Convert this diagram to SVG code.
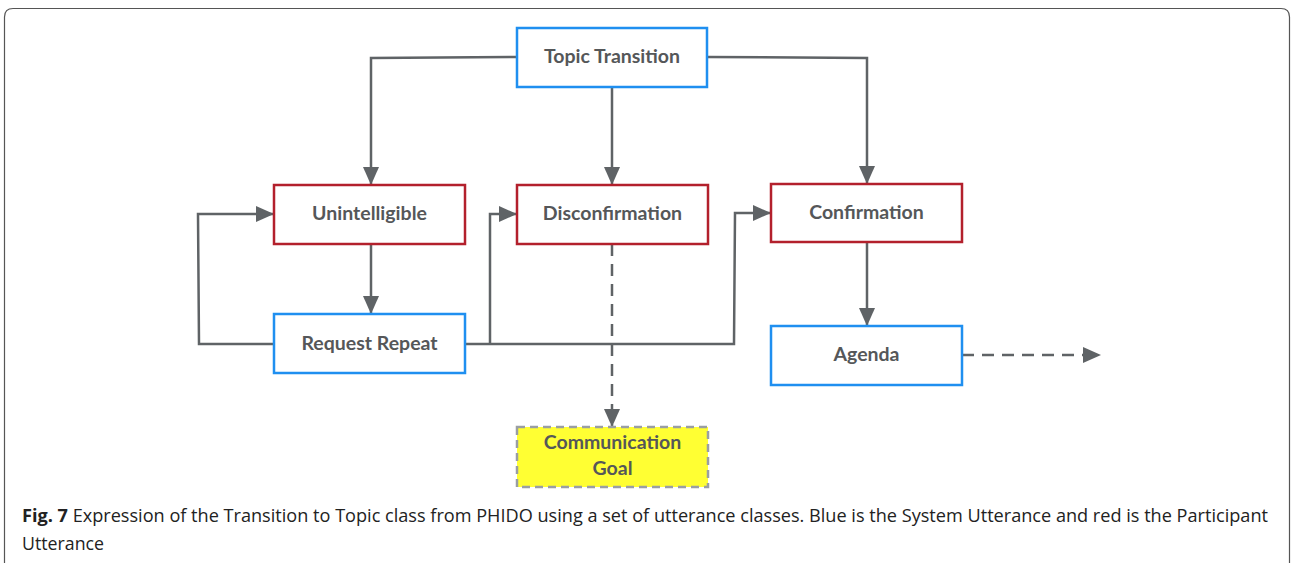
<svg xmlns="http://www.w3.org/2000/svg" width="1291" height="563" viewBox="0 0 1291 563">
<style>
.node rect{fill:#fff;stroke-width:2.5}
.sys rect{stroke:#1f8ff0}
.par rect{stroke:#b3202c}
.goal rect{fill:#ffff33;stroke:#9a9ea3;stroke-dasharray:8 5}
.lbl{font-family:Lato,"Open Sans",sans-serif;font-weight:bold;font-size:19.5px;fill:#555759;text-anchor:middle}
.c{fill:none;stroke:#5f6366;stroke-width:2.5}
.d{stroke-dasharray:12 8}
.cap{font-family:"Open Sans","Liberation Sans",sans-serif;font-size:18px;fill:#222}
</style>
<defs>
<marker id="ah" markerUnits="userSpaceOnUse" markerWidth="18" markerHeight="16" refX="17" refY="8" orient="auto">
<path d="M0,0 L18,8 L0,16 Z" fill="#5f6366"/>
</marker>
</defs>
<path d="M4.5,563 L4.5,17 Q4.5,8.5 13,8.5 L1281,8.5 Q1289.5,8.5 1289.5,17 L1289.5,563" fill="none" stroke="#555" stroke-width="1.2"/>
<g id="connectors">
<path class="c" d="M517,57 L371,58 L371,184" marker-end="url(#ah)"/>
<path class="c" d="M612,87 L612,184" marker-end="url(#ah)"/>
<path class="c" d="M707,57 L867,58 L867,183" marker-end="url(#ah)"/>
<path class="c" d="M371,244 L371,313" marker-end="url(#ah)"/>
<path class="c" d="M274,344 L199,344 L198,214 L273,214" marker-end="url(#ah)"/>
<path class="c" d="M465,344 L734,344 L735,213 L770,213" marker-end="url(#ah)"/>
<path class="c" d="M490,344 L490,214 L516,214" marker-end="url(#ah)"/>
<path class="c d" d="M612,244 L612,426" marker-end="url(#ah)"/>
<path class="c" d="M867,242 L867,325" marker-end="url(#ah)"/>
<path class="c d" d="M962,355 L1100,355" marker-end="url(#ah)"/>
</g>
<g id="topic-transition" class="node sys"><rect x="517" y="28" width="190" height="59"/><text class="lbl" x="612" y="63">Topic Transition</text></g>
<g id="unintelligible" class="node par"><rect x="274" y="185" width="191" height="59"/><text class="lbl" x="369.5" y="220">Unintelligible</text></g>
<g id="disconfirmation" class="node par"><rect x="517" y="185" width="191" height="59"/><text class="lbl" x="612.5" y="220">Disconfirmation</text></g>
<g id="confirmation" class="node par"><rect x="771" y="184" width="191" height="58"/><text class="lbl" x="866.5" y="219">Confirmation</text></g>
<g id="request-repeat" class="node sys"><rect x="274" y="314" width="191" height="59"/><text class="lbl" x="369.5" y="350">Request Repeat</text></g>
<g id="agenda" class="node sys"><rect x="771" y="326" width="191" height="59"/><text class="lbl" x="866.5" y="361">Agenda</text></g>
<g id="communication-goal" class="node goal"><rect x="517" y="427" width="191" height="60"/><text class="lbl" x="612.5" y="449">Communication</text><text class="lbl" x="612.5" y="475">Goal</text></g>
<text class="cap" x="22" y="522" textLength="1246" lengthAdjust="spacingAndGlyphs"><tspan font-weight="bold">Fig. 7</tspan> Expression of the Transition to Topic class from PHIDO using a set of utterance classes. Blue is the System Utterance and red is the Participant</text>
<text class="cap" x="22" y="550" textLength="82" lengthAdjust="spacingAndGlyphs">Utterance</text>
</svg>
